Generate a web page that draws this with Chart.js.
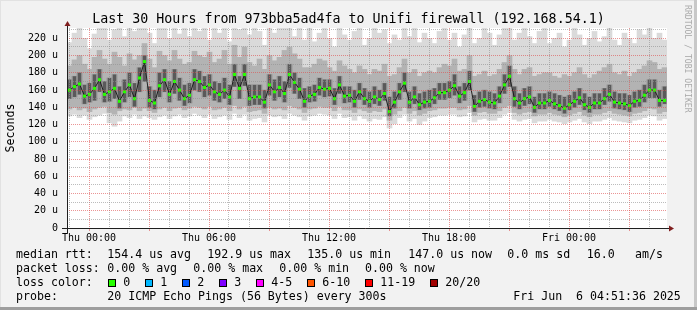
<!DOCTYPE html>
<html>
<head>
<meta charset="utf-8">
<title>SmokePing - 973bba5ad4fa to Unifi firewall</title>
<script src="https://cdn.jsdelivr.net/npm/chart.js@4.4.1/dist/chart.umd.min.js"></script>
<style>
  html, body { margin: 0; padding: 0; background: #f2f2f2; }
  #frame { position: relative; width: 697px; height: 310px; overflow: hidden; background: #f2f2f2;
           font-family: 'DejaVu Sans Mono', monospace; color: #000; }
  #chart { position: absolute; left: 0; top: 0; }
  .t { position: absolute; white-space: pre; }
  #title { left: 0; top: 11.4px; width: 697px; text-align: center; font-size: 13.3px; line-height: 16px; }
  #ylabel { left: -90px; top: 121px; width: 200px; height: 14px; text-align: center; font-size: 11.6px;
            line-height: 14px; transform: rotate(-90deg); }
  #credit { left: 627.8px; top: 60px; width: 120px; height: 10px; font-size: 8.15px; line-height: 10px;
            color: #aaa; transform: rotate(90deg); }
  .ln { position: absolute; left: 0; width: 697px; height: 14px; font-size: 11.6px; line-height: 14px; }
  .ln span { position: absolute; top: 0; white-space: pre; }
  .box { position: absolute; width: 8px; height: 8px; box-sizing: border-box; border: 1px solid #000; }
  .edge { position: absolute; }
</style>
</head>
<body>
<div id="frame">
  <canvas id="chart" width="697" height="310"></canvas>
  <div id="title" class="t">Last 30 Hours from 973bba5ad4fa to Unifi firewall (192.168.54.1)</div>
  <div id="ylabel" class="t">Seconds</div>
  <div id="credit" class="t">RRDTOOL / TOBI OETIKER</div>

  <div class="ln" style="top:246.8px">
    <span style="left:16px">median rtt:</span>
    <span style="left:107.3px">154.4 us avg</span>
    <span style="left:207.3px">192.9 us max</span>
    <span style="left:307.3px">135.0 us min</span>
    <span style="left:408.3px">147.0 us now</span>
    <span style="left:507.3px">0.0 ms sd</span>
    <span style="left:586.7px">16.0</span>
    <span style="left:635px">am/s</span>
  </div>
  <div class="ln" style="top:260.8px">
    <span style="left:16px">packet loss:</span>
    <span style="left:107.3px">0.00 % avg</span>
    <span style="left:193.3px">0.00 % max</span>
    <span style="left:279.3px">0.00 % min</span>
    <span style="left:365px">0.00 % now</span>
  </div>
  <div class="ln" id="lossRow" style="top:274.8px">
    <span style="left:16px">loss color:</span>
  </div>
  <div class="ln" style="top:288.8px">
    <span style="left:16px">probe:</span>
    <span style="left:107.3px">20 ICMP Echo Pings (56 Bytes) every 300s</span>
    <span style="left:513.3px">Fri Jun  6 04:51:36 2025</span>
  </div>

  <div class="edge" style="left:0;top:0;width:697px;height:1px;background:#e2e2e2"></div>
  <div class="edge" style="left:0;top:0;width:1px;height:310px;background:#e2e2e2"></div>
  <div class="edge" style="right:0;top:0;width:3px;height:310px;background:#c8c8c8"></div>
  <div class="edge" style="left:0;bottom:0;width:697px;height:3px;background:#9e9e9e"></div>
</div>

<script>
// time axis: hours relative to Thu 00:00, one sample every 15 minutes
const startHour = -1.1;
const endHour = 28.9;
const stepHours = 0.25;

const xTickHours = [0, 6, 12, 18, 24];
const xTickLabels = ['Thu 00:00', 'Thu 06:00', 'Thu 12:00', 'Thu 18:00', 'Fri 00:00'];

const yMax = 232;
const yTickValues = [0, 20, 40, 60, 80, 100, 120, 140, 160, 180, 200, 220];
const yTickLabels = ['0', '20 u', '40 u', '60 u', '80 u', '100 u', '120 u', '140 u', '160 u', '180 u', '200 u', '220 u'];

// median round trip time (us)
const medianRtt = [
  160,164,167,153,155,162,172,155,158,162,147,158,166,150,174,193,148,145,165,172,155,170,160,150,
  154,172,170,163,166,158,155,160,152,178,162,178,150,152,152,146,166,158,163,156,178,169,161,147,
  153,155,163,161,162,150,166,153,154,147,158,150,147,152,149,156,135,146,158,168,146,152,143,146,
  147,151,157,157,160,165,153,157,170,141,147,149,146,145,153,166,176,150,145,150,152,140,145,145,
  148,144,142,139,143,147,151,143,140,145,145,150,155,146,145,144,142,147,148,154,160,160,148,148
];

// smoke: spread of the 20 pings per sample (us)
const smokeMin = [
  130,132,128,131,126,129,131,133,122,118,124,130,128,132,127,130,128,126,129,131,127,130,132,128,
  130,133,131,128,132,127,129,131,126,133,128,132,125,127,128,123,131,129,130,127,133,131,129,125,
  130,131,133,132,131,127,133,128,129,125,130,127,124,127,126,129,116,121,128,132,124,127,120,124,
  128,129,131,131,132,132,129,130,134,123,126,127,125,125,128,132,134,126,124,126,127,122,124,124,
  126,124,123,121,123,125,127,123,121,124,124,126,128,125,124,123,122,125,126,128,131,130,125,127
];
const smokeMax = [
  215,226,232,220,208,225,232,232,218,230,232,222,232,228,232,232,226,214,232,232,220,232,225,232,
  222,232,228,232,218,232,226,232,216,232,230,232,224,232,228,212,232,226,232,232,232,222,232,218,
  232,216,226,232,220,210,232,224,218,228,232,212,220,232,226,230,214,224,218,232,222,232,215,226,
  220,214,228,232,218,226,210,224,232,214,220,232,226,212,224,232,232,218,226,232,222,214,228,232,
  214,220,226,210,218,232,224,212,220,228,216,222,232,218,212,226,220,214,230,224,232,220,226,218
];
const smokeP10 = [
  138,140,137,139,135,138,140,141,134,132,136,138,137,140,136,139,136,134,138,140,136,139,140,137,
  139,141,140,138,141,137,138,140,136,142,138,141,135,136,137,133,140,138,139,137,142,140,138,134,
  138,139,141,140,140,136,141,137,137,134,138,136,134,136,135,138,125,132,136,140,133,136,131,133,
  136,137,139,139,140,140,137,138,142,131,134,135,133,133,136,140,142,134,132,134,135,130,132,132,
  134,132,131,129,131,133,135,131,129,132,132,134,136,133,132,131,130,133,134,136,139,138,133,135
];
const smokeP90 = [
  188,195,200,190,184,198,206,196,190,204,198,188,202,195,200,214,196,186,205,200,194,206,196,190,
  192,205,200,198,204,192,196,206,190,212,198,210,192,188,196,184,200,194,198,206,210,202,196,186,
  186,190,196,194,186,182,194,188,184,180,188,184,178,184,182,190,176,178,186,196,180,184,176,180,
  182,180,186,190,188,196,182,184,200,176,178,182,176,178,184,192,200,184,178,184,186,176,178,180,
  180,176,174,178,176,180,186,178,174,178,182,186,190,180,178,182,176,180,184,188,194,192,184,186
];
const smokeP25 = [
  150,152,155,144,146,148,158,146,147,150,139,146,152,141,158,170,140,138,152,158,146,156,148,142,
  145,160,158,152,154,148,146,150,143,164,150,165,142,143,143,139,154,148,152,146,163,156,150,140,
  146,147,154,152,153,143,156,145,146,140,149,143,140,144,142,148,130,139,149,158,139,144,137,139,
  140,144,149,149,151,154,145,148,160,135,140,141,139,138,145,156,164,141,138,142,144,134,138,138,
  141,138,136,133,137,140,143,137,134,138,138,143,147,139,138,137,135,140,141,146,151,151,141,144
];
const smokeP75 = [
  172,176,180,166,168,178,184,170,174,178,164,172,180,168,186,200,164,160,180,184,170,184,174,166,
  168,184,182,176,178,170,168,174,166,190,176,190,166,166,166,160,178,172,176,170,190,180,174,162,
  164,166,174,172,172,162,176,164,164,160,168,162,158,164,160,168,152,158,168,180,158,164,156,158,
  160,162,168,168,170,178,164,168,182,154,158,160,158,156,164,178,188,164,156,162,164,152,156,156,
  158,156,154,152,154,158,162,156,152,156,156,162,166,158,156,156,154,158,160,166,172,172,160,164
];

const lossLabels = ['0', '1', '2', '3', '4-5', '6-10', '11-19', '20/20'];
const lossColors = ['#26ff00', '#00b8ff', '#0059ff', '#7e00ff', '#ff00ff', '#ff5500', '#ff0000', '#a00000'];

// rrdtool default grid colours
const minorGrid = 'rgba(143,143,143,0.6)';
const majorGrid = 'rgba(222,79,79,0.6)';

const hourAt = i => startHour + stepHours * (i + 0.5);
const toPoints = arr => arr.map((v, i) => ({ x: hourAt(i), y: v }));
const toBand = (lo, hi) => lo.map((v, i) => ({ x: hourAt(i), y: [v, hi[i]] }));

// loss colour legend row
(function buildLossLegend() {
  const row = document.getElementById('lossRow');
  let x = 108.3;
  lossLabels.forEach((label, i) => {
    const box = document.createElement('div');
    box.className = 'box';
    box.style.left = x + 'px';
    box.style.top = '4.2px';
    box.style.background = lossColors[i];
    row.appendChild(box);
    const span = document.createElement('span');
    span.textContent = label;
    span.style.left = (x + 15) + 'px';
    row.appendChild(span);
    x += 15 + label.length * 7 + 15;
  });
})();

const plotBackground = {
  id: 'plotBackground',
  beforeDraw(chart) {
    const { ctx, chartArea: a } = chart;
    ctx.save();
    ctx.fillStyle = '#ffffff';
    ctx.fillRect(a.left, a.top, a.right - a.left, a.bottom - a.top);
    ctx.restore();
  }
};

// rrdtool style axes with arrow heads
const axesArrows = {
  id: 'axesArrows',
  afterDraw(chart) {
    const { ctx, chartArea: a } = chart;
    ctx.save();
    ctx.strokeStyle = '#1f1f1f';
    ctx.lineWidth = 1;
    ctx.beginPath();
    ctx.moveTo(a.left - 5, a.bottom + 0.5);
    ctx.lineTo(a.right + 2, a.bottom + 0.5);
    ctx.moveTo(a.left + 0.5, a.bottom + 5);
    ctx.lineTo(a.left + 0.5, a.top - 2);
    ctx.stroke();
    ctx.fillStyle = '#801f1f';
    ctx.beginPath();
    ctx.moveTo(a.right + 7, a.bottom + 0.5);
    ctx.lineTo(a.right + 2, a.bottom - 2.5);
    ctx.lineTo(a.right + 2, a.bottom + 3.5);
    ctx.closePath();
    ctx.fill();
    ctx.beginPath();
    ctx.moveTo(a.left + 0.5, a.top - 7);
    ctx.lineTo(a.left - 2.5, a.top - 2);
    ctx.lineTo(a.left + 3.5, a.top - 2);
    ctx.closePath();
    ctx.fill();
    ctx.restore();
  }
};

Chart.defaults.font.family = "'DejaVu Sans Mono', monospace";
Chart.defaults.font.size = 10;
Chart.defaults.color = '#000';

// tick lists: minor (grey) and major (red) grid positions
const hourTicks = (keep) => s => {
  const ticks = [];
  for (let h = Math.ceil(startHour); h <= Math.floor(endHour); h++) if (keep(h)) ticks.push({ value: h });
  s.ticks = ticks;
};
const rttTicks = (keep) => s => {
  const ticks = [];
  for (let v = 0; v <= yMax; v += 10) if (keep(v)) ticks.push({ value: v });
  s.ticks = ticks;
};

new Chart(document.getElementById('chart'), {
  type: 'bar',
  data: {
    datasets: [
      { type: 'line', label: 'median rtt', data: toPoints(medianRtt), showLine: false,
        pointStyle: 'rect', pointRadius: 2.2, pointBackgroundColor: lossColors[0], pointBorderWidth: 0, order: 0 },
      { type: 'line', label: 'median trace', data: toPoints(medianRtt), borderColor: 'rgba(20,20,20,0.9)',
        borderWidth: 1, pointRadius: 0, order: 1 },
      { label: 'smoke 25-75', data: toBand(smokeP25, smokeP75), backgroundColor: '#5a5a5a',
        barPercentage: 0.6, order: 2 },
      { label: 'smoke 25-75 halo', data: toBand(smokeP25, smokeP75), backgroundColor: '#8c8c8c', order: 3 },
      { label: 'smoke 10-90', data: toBand(smokeP10, smokeP90), backgroundColor: '#b3b3b3', order: 4 },
      { label: 'smoke min-max', data: toBand(smokeMin, smokeMax), backgroundColor: '#dadada', order: 5 }
    ]
  },
  options: {
    responsive: false,
    animation: false,
    devicePixelRatio: 1,
    events: [],
    layout: { padding: { top: 28, right: 30, bottom: 0, left: 0 } },
    datasets: {
      bar: { grouped: false, barPercentage: 1, categoryPercentage: 1, borderWidth: 0 }
    },
    plugins: { legend: { display: false }, tooltip: { enabled: false }, title: { display: false } },
    scales: {
      // data axis: hourly grey grid, no labels
      x: {
        type: 'linear', position: 'bottom', min: startHour, max: endHour, offset: false,
        afterFit: s => { s.height = 0; },
        afterBuildTicks: hourTicks(h => h % 3 !== 0),
        grid: { z: 1, offset: false, color: minorGrid, drawTicks: false, lineWidth: 1 },
        border: { display: false, dash: [1, 1] },
        ticks: { display: false }
      },
      // labelled time axis: red grid every 3 hours
      xMajor: {
        type: 'linear', position: 'bottom', min: startHour, max: endHour, offset: false,
        afterFit: s => { s.height = 82; },
        afterBuildTicks: hourTicks(h => h % 3 === 0),
        grid: { z: 1, offset: false, color: majorGrid, tickColor: majorGrid, tickLength: 3, lineWidth: 1 },
        border: { display: false, dash: [1, 1] },
        ticks: {
          autoSkip: false, maxRotation: 0, padding: 1,
          callback: v => { const k = xTickHours.indexOf(v); return k < 0 ? '' : xTickLabels[k]; }
        }
      },
      y: {
        position: 'left', min: 0, max: yMax,
        afterFit: s => { s.width = 0; },
        afterBuildTicks: rttTicks(v => v % 20 !== 0),
        grid: { z: 1, color: minorGrid, drawTicks: false, lineWidth: 1 },
        border: { display: false, dash: [1, 1] },
        ticks: { display: false }
      },
      yMajor: {
        position: 'left', min: 0, max: yMax,
        afterFit: s => { s.width = 67; },
        afterBuildTicks: rttTicks(v => v % 20 === 0),
        grid: { z: 1, color: majorGrid, drawTicks: false, lineWidth: 1 },
        border: { display: false, dash: [1, 1] },
        ticks: {
          autoSkip: false, padding: 9,
          callback: v => { const k = yTickValues.indexOf(v); return k < 0 ? '' : yTickLabels[k]; }
        }
      }
    }
  },
  plugins: [plotBackground, axesArrows]
});
</script>
</body>
</html>
